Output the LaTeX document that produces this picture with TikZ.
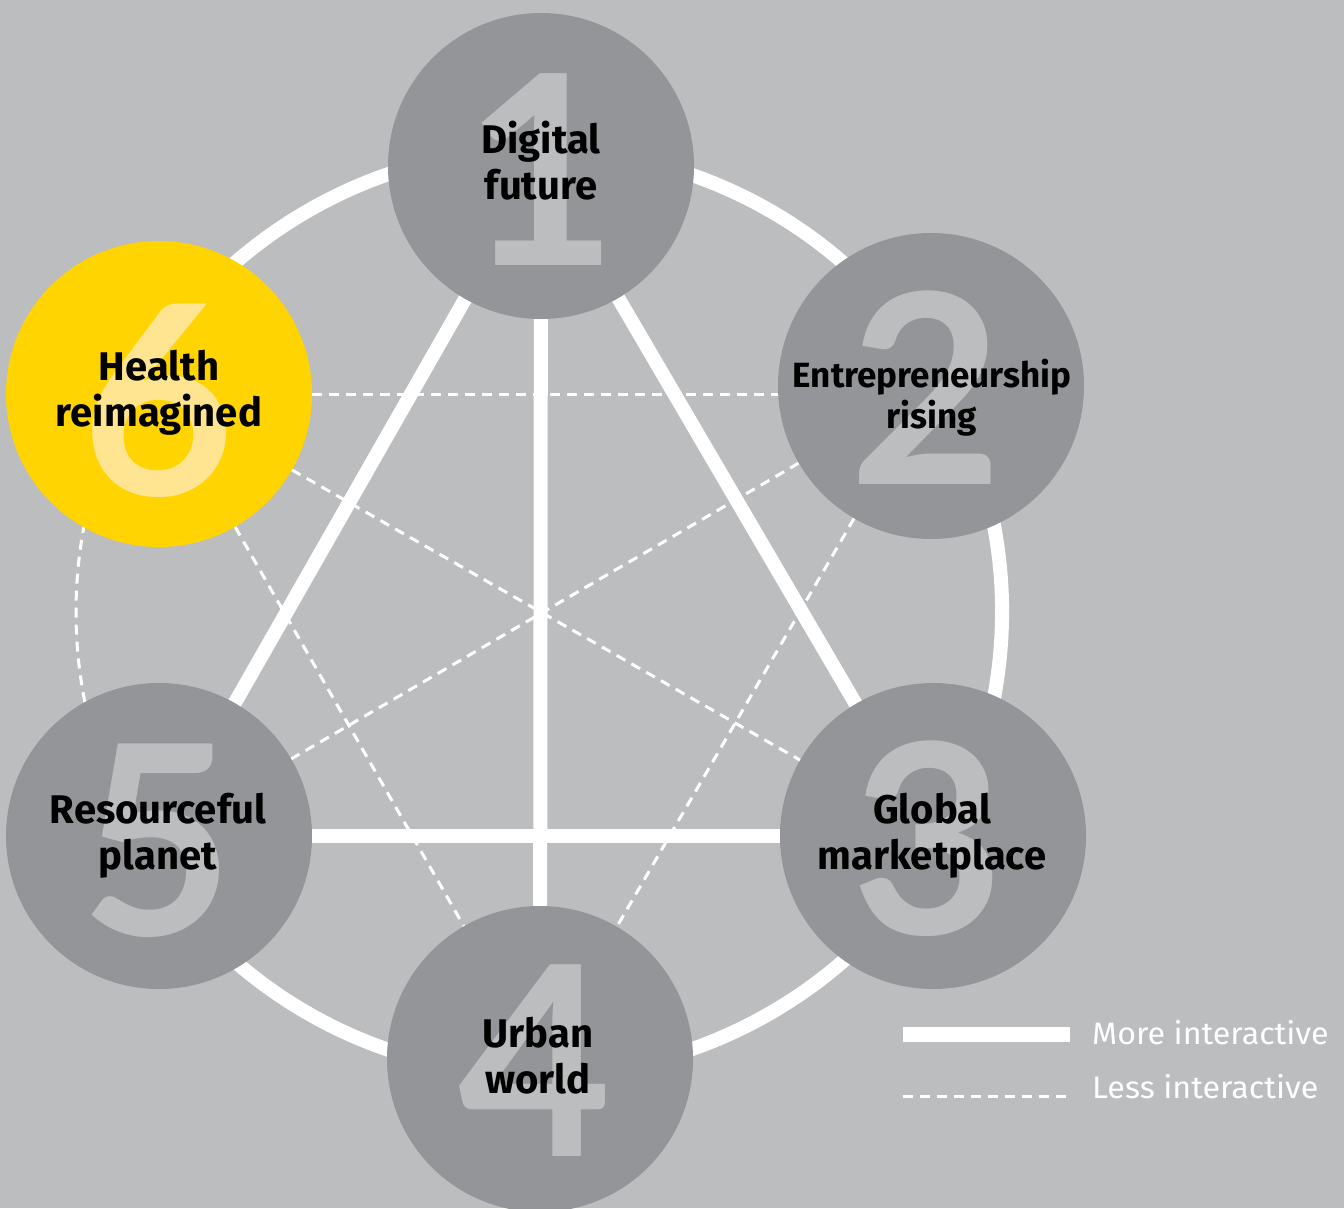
\documentclass[tikz,border=0pt]{standalone}
\usepackage{fontspec}
\setmainfont{Fira Sans}
\newfontfamily\digitfont{Lato}
\newfontfamily\legendfont{Fira Sans}[FakeStretch=1.04]
\usetikzlibrary{calc}
\definecolor{bg}{HTML}{BCBDBF}
\definecolor{disc}{HTML}{939598}
\definecolor{eyyellow}{HTML}{FFD400}
\definecolor{eylight}{HTML}{FFE591}
\pgfdeclarelayer{ringlayer}
\pgfdeclarelayer{linklayer}
\pgfsetlayers{ringlayer,linklayer,main}
\tikzset{
  topic/.style={circle, fill=disc, minimum size=306pt, inner sep=0pt, outer sep=0pt},
  digit/.style={anchor=base, inner sep=0pt, text=bg, font=\digitfont\fontsize{265}{265}\selectfont\bfseries},
  topictext/.style={anchor=base, inner sep=0pt, text width=330pt, align=center, text=black,
    font=\fontsize{40}{46}\selectfont\bfseries},
  strong/.style={draw=white, line width=14pt},
  weak/.style={draw=white, line width=3pt, dash pattern=on 10pt off 7pt},
  legendtext/.style={anchor=base west, inner sep=0pt, text=white, font=\legendfont\fontsize{31}{36}\selectfont},
}
\begin{document}
\begin{tikzpicture}[x=1pt,y=-1pt]
\useasboundingbox (0,0) rectangle (1344,1208);
% discs
\node[topic] (t1) at (541,166) {};
\node[topic] (t2) at (931,386) {};
\node[topic] (t3) at (933,836) {};
\node[topic] (t4) at (540,1059) {};
\node[topic] (t5) at (159,836) {};
\node[topic, fill=eyyellow] (t6) at (159,394) {};
% big digits
\node[digit] (d1) at ($(t1.center)+(0,99)$) {1};
\node[digit] (d2) at ($(t2.center)+(-5,98)$) {2};
\node[digit] (d3) at ($(t3.center)+(-5,98)$) {3};
\node[digit] (d4) at ($(t4.center)+(-5,97)$) {4};
\node[digit] (d5) at ($(t5.center)+(-2,99)$) {5};
\node[digit, text=eylight] (d6) at ($(t6.center)+(-1,101)$) {6};
% labels
\node[topictext] (x1) at (541,153) {Digital\\future};
\node[topictext, font=\fontsize{35}{41}\selectfont\bfseries] (x2) at (932,387) {Entrepreneurship\\rising};
\node[topictext] (x3) at (932,823) {Global\\marketplace};
\node[topictext] (x4) at (538,1047) {Urban\\world};
\node[topictext] (x5) at (158,823) {Resourceful\\planet};
\node[topictext] (x6) at (159,380) {Health\\reimagined};
% ring
\coordinate (o) at (539,612);
\begin{pgfonlayer}{ringlayer}
\fill[bg] (0,0) rectangle (1344,1208);
\draw[strong] ($(o)+(-150:463pt)$) arc[start angle=-150, end angle=150, radius=463pt];
\draw[weak] ($(o)+(150:463pt)$) arc[start angle=150, end angle=210, radius=463pt];
\end{pgfonlayer}
% links
\begin{pgfonlayer}{linklayer}
\draw[strong] (t1.center) -- (t4.center);
\draw[strong] (t1.center) -- (t5.center);
\draw[strong] (t1.center) -- (t3.center);
\draw[strong] (t5.center) -- (t3.center);
\draw[weak] (t6.center) -- (t6.center -| t2.center);
\draw[weak] (t6.center) -- (t3.center);
\draw[weak] (t6.center) -- (t4.center);
\draw[weak] (t2.center) -- (t5.center);
\draw[weak] (t2.center) -- (t4.center);
\end{pgfonlayer}
% legend
\coordinate (ms) at (903,1034.5);
\coordinate (me) at (1070,1034.5);
\coordinate (ls) at (903,1096);
\coordinate (le) at (1068,1096);
\draw[white, line width=15pt] (ms) -- (me);
\draw[weak] (ls) -- (le);
\node[legendtext] (lm) at (1092,1044) {More interactive};
\node[legendtext] (ll) at (1092,1098) {Less interactive};
\end{tikzpicture}
\end{document}
